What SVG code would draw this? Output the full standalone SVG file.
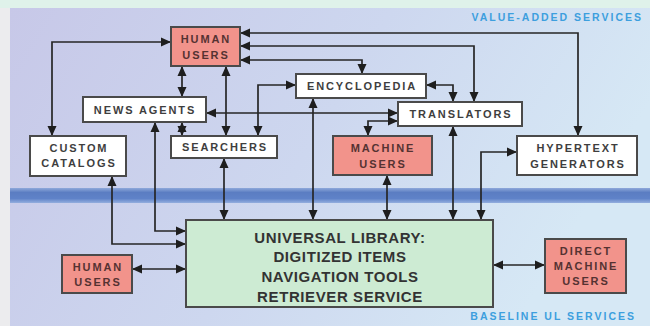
<svg xmlns="http://www.w3.org/2000/svg" width="650" height="326" viewBox="0 0 650 326">
<defs>
<linearGradient id="bg" x1="0" y1="0" x2="1" y2="0.3">
<stop offset="0" stop-color="#c7c8e8"/>
<stop offset="0.55" stop-color="#cdd7ef"/>
<stop offset="1" stop-color="#d6e8f5"/>
</linearGradient>
<linearGradient id="band" x1="0" y1="0" x2="0" y2="1">
<stop offset="0" stop-color="#8ea8da"/>
<stop offset="0.3" stop-color="#5b7dc2"/>
<stop offset="0.7" stop-color="#5f82c8"/>
<stop offset="1" stop-color="#93aede"/>
</linearGradient>
<marker id="ah" viewBox="0 0 10 10" refX="10" refY="5" markerWidth="10" markerHeight="10" markerUnits="userSpaceOnUse" orient="auto-start-reverse">
<path d="M0,0.5 L10,5 L0,9.5 Z" fill="#1e1e1e"/>
</marker>
<style>
.box{fill:#ffffff;stroke:#4a4a4a;stroke-width:2}
.pink{fill:#f2938b;stroke:#4a4a4a;stroke-width:2}
.ul{fill:#cdebd3;stroke:#4a4a4a;stroke-width:2}
.t{font-family:"Liberation Sans",Arial,sans-serif;font-weight:bold;font-size:11px;letter-spacing:1.9px;fill:#3e3e3e;text-anchor:middle}
.tp{fill:#553232}
.big{font-family:"Liberation Sans",Arial,sans-serif;font-weight:bold;font-size:15px;letter-spacing:0.6px;fill:#333;text-anchor:middle}
.lab{font-family:"Liberation Sans",Arial,sans-serif;font-weight:bold;font-size:10.5px;letter-spacing:2px;fill:#3d9fde;text-anchor:end}
#connectors path{fill:none;stroke:#262626;stroke-width:1.7;marker-start:url(#ah);marker-end:url(#ah)}
</style>
</defs>
<rect x="0" y="0" width="650" height="326" fill="#ececee"/>
<rect x="0" y="0" width="650" height="8" fill="#dff2ea"/>
<rect x="10" y="8" width="640" height="318" fill="url(#bg)"/>
<rect x="10" y="188" width="640" height="15" fill="url(#band)"/>
<text class="lab" x="643" y="21">VALUE-ADDED SERVICES</text>
<text class="lab" x="636" y="320">BASELINE UL SERVICES</text>
<g id="connectors">
<path d="M52,136 V42 H171"/>
<path d="M240,33 H578 V136"/>
<path d="M240,46 H474 V102"/>
<path d="M240,60 H362 V74"/>
<path d="M182,66 V97"/>
<path d="M226,66 V136"/>
<path d="M206,113 H398"/>
<path d="M296,85 H258 V136"/>
<path d="M313,98 V220"/>
<path d="M426,85 H453 V102"/>
<path d="M398,121 H368 V136"/>
<path d="M453,126 V220"/>
<path d="M387,175 V220"/>
<path d="M517,152 H481 V220"/>
<path d="M224,158 V220"/>
<path d="M182,122 V136"/>
<path d="M155,122 V231 H186"/>
<path d="M112,176 V244 H186"/>
<path d="M132,269 H186"/>
<path d="M493,265 H545"/>
</g>
<g id="human-users-top">
<rect class="pink" x="171" y="27" width="69" height="39"/>
<text class="t tp" x="206" y="43">HUMAN</text>
<text class="t tp" x="206" y="59">USERS</text>
</g>
<g id="news-agents">
<rect class="box" x="83" y="97" width="123" height="25"/>
<text class="t" x="145" y="114">NEWS AGENTS</text>
</g>
<g id="custom-catalogs">
<rect class="box" x="30" y="136" width="96" height="40"/>
<text class="t" x="79" y="152">CUSTOM</text>
<text class="t" x="79" y="167">CATALOGS</text>
</g>
<g id="searchers">
<rect class="box" x="171" y="136" width="106" height="22"/>
<text class="t" x="225" y="151">SEARCHERS</text>
</g>
<g id="encyclopedia">
<rect class="box" x="296" y="74" width="130" height="24"/>
<text class="t" x="362" y="90">ENCYCLOPEDIA</text>
</g>
<g id="translators">
<rect class="box" x="398" y="102" width="124" height="24"/>
<text class="t" x="461" y="118">TRANSLATORS</text>
</g>
<g id="machine-users">
<rect class="pink" x="333" y="136" width="99" height="39"/>
<text class="t tp" x="383" y="152">MACHINE</text>
<text class="t tp" x="383" y="168">USERS</text>
</g>
<g id="hypertext-generators">
<rect class="box" x="517" y="136" width="120" height="39"/>
<text class="t" x="578" y="152">HYPERTEXT</text>
<text class="t" x="578" y="168">GENERATORS</text>
</g>
<g id="universal-library">
<rect class="ul" x="186" y="220" width="307" height="87"/>
<text class="big" x="340" y="243">UNIVERSAL LIBRARY:</text>
<text class="big" x="340" y="262">DIGITIZED ITEMS</text>
<text class="big" x="340" y="282">NAVIGATION TOOLS</text>
<text class="big" x="340" y="302">RETRIEVER SERVICE</text>
</g>
<g id="human-users-bottom">
<rect class="pink" x="62" y="255" width="70" height="38"/>
<text class="t tp" x="98" y="271">HUMAN</text>
<text class="t tp" x="98" y="286">USERS</text>
</g>
<g id="direct-machine-users">
<rect class="pink" x="545" y="239" width="81" height="54"/>
<text class="t tp" x="586" y="255">DIRECT</text>
<text class="t tp" x="586" y="270">MACHINE</text>
<text class="t tp" x="586" y="285">USERS</text>
</g>
</svg>
